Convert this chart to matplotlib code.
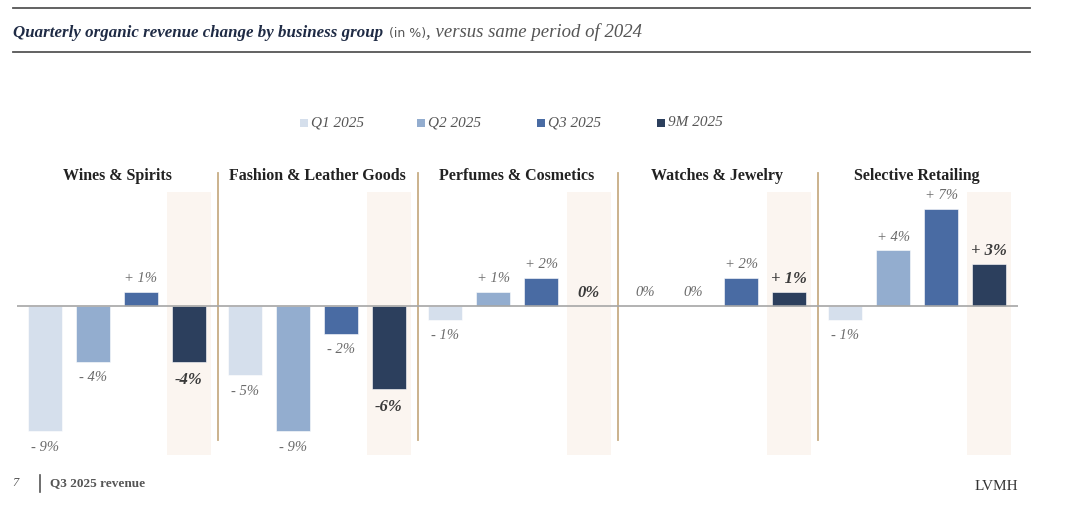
import matplotlib
matplotlib.use("Agg")
import matplotlib.pyplot as plt
from matplotlib.lines import Line2D
from matplotlib.patches import Rectangle

groups = ["Wines & Spirits", "Fashion & Leather Goods", "Perfumes & Cosmetics",
          "Watches & Jewelry", "Selective Retailing"]
series = ["Q1 2025", "Q2 2025", "Q3 2025", "9M 2025"]
q1 = [-9, -5, -1, 0, -1]
q2 = [-4, -9, 1, 0, 4]
q3 = [1, -2, 2, 2, 7]
m9 = [-4, -6, 0, 1, 3]
values = [q1, q2, q3, m9]
colors = ["#d5dfec", "#93adcf", "#496ba3", "#2c3f5d"]

SERIF = "Liberation Serif"
W, H = 1080, 509
fig = plt.figure(figsize=(W / 100, H / 100), dpi=100)

def fx(px):
    return px / W

def fy(py):
    return 1 - py / H

# main axes
ax = fig.add_axes([fx(17), fy(460), (1018 - 17) / W, 300 / H])
ax.set_xlim(-0.583, 20.27)
ax.set_ylim(-11.08, 10.5)
ax.axis("off")

gw = 200 / 48.0
bw = 0.71

def fmt(v, bold):
    if v == 0:
        return "0%"
    if bold:
        return ("-%d%%" % abs(v)) if v < 0 else ("+ %d%%" % v)
    return ("- %d%%" % abs(v)) if v < 0 else ("+ %d%%" % v)

for g, name in enumerate(groups):
    base = g * gw
    # highlight band behind 9M
    ax.add_patch(Rectangle((base + 3 - 0.45, -10.72), 0.9, 18.92,
                           facecolor="#fbf5f0", edgecolor="none", zorder=0))
    if g > 0:
        ax.plot([base - 0.5625, base - 0.5625], [-9.64, 9.57], color="#c7ad85",
                lw=1.3, zorder=1)
    ax.text(base + 1.5, 9.35, name, ha="center", va="center", family=SERIF,
            fontweight="bold", fontsize=11.5, color="#222222")
    for i in range(4):
        v = values[i][g]
        x = base + i
        if v != 0:
            ax.bar(x, v, width=bw, color=colors[i], edgecolor="white",
                   linewidth=0.4, zorder=2)
        bold = (i == 3)
        if v >= 0:
            off = 9.5
        else:
            off = -13 if bold else -11.5
        ax.annotate(fmt(v, bold), (x, v), xytext=(0, off), textcoords="offset points",
                    ha="center", va="center", family=SERIF, style="italic",
                    fontweight="bold" if bold else "normal",
                    fontsize=12 if bold else 10.5,
                    color="#3a3a3a" if bold else "#6a6a6a", zorder=3)

ax.axhline(0, color="#a6a6a6", lw=1.2, zorder=2.5)

# legend
leg_x = [300, 417, 537, 657]
for i, s in enumerate(series):
    fig.patches.append(Rectangle((fx(leg_x[i]), fy(127)), 8 / W, 8 / H,
                                 transform=fig.transFigure, facecolor=colors[i],
                                 edgecolor="none"))
    fig.text(fx(leg_x[i] + 11), fy(123), s, ha="left", va="center", family=SERIF,
             style="italic", fontsize=11, color="#555555")

# title block
fig.add_artist(Line2D([fx(13), fx(1030)], [fy(8), fy(8)], transform=fig.transFigure,
                      color="#555555", lw=1.3))
fig.add_artist(Line2D([fx(13), fx(1030)], [fy(52), fy(52)], transform=fig.transFigure,
                      color="#555555", lw=1.3))
ty = fy(37)
t1 = fig.text(fx(13), ty, "Quarterly organic revenue change by business group",
              ha="left", va="baseline", family=SERIF, style="italic", fontweight="bold",
              fontsize=12.2, color="#1f2b45")
fig.canvas.draw()
r = fig.canvas.get_renderer()
bb = t1.get_window_extent(r)
x2 = bb.x1 / W + 6 / W
t2 = fig.text(x2, ty, "(in %)", ha="left", va="baseline", family="DejaVu Sans",
              fontsize=9, color="#555555")
bb2 = t2.get_window_extent(r)
fig.text(bb2.x1 / W, ty, ", versus same period of 2024", ha="left", va="baseline",
         family=SERIF, style="italic", fontsize=13.5, color="#555555")

# footer
fig.text(fx(12), fy(483), "7", ha="left", va="center", family=SERIF, style="italic",
         fontsize=9, color="#555555")
fig.add_artist(Line2D([fx(40), fx(40)], [fy(475), fy(492)], transform=fig.transFigure,
                      color="#555555", lw=1.2))
fig.text(fx(50), fy(483), "Q3 2025 revenue", ha="left", va="center", family=SERIF,
         fontsize=9.5, fontweight="bold", color="#555555")
fig.text(fx(1018), fy(487), "LVMH", ha="right", va="center", family=SERIF,
         fontsize=11, color="#333333")

fig.savefig("out.png", dpi=100)
